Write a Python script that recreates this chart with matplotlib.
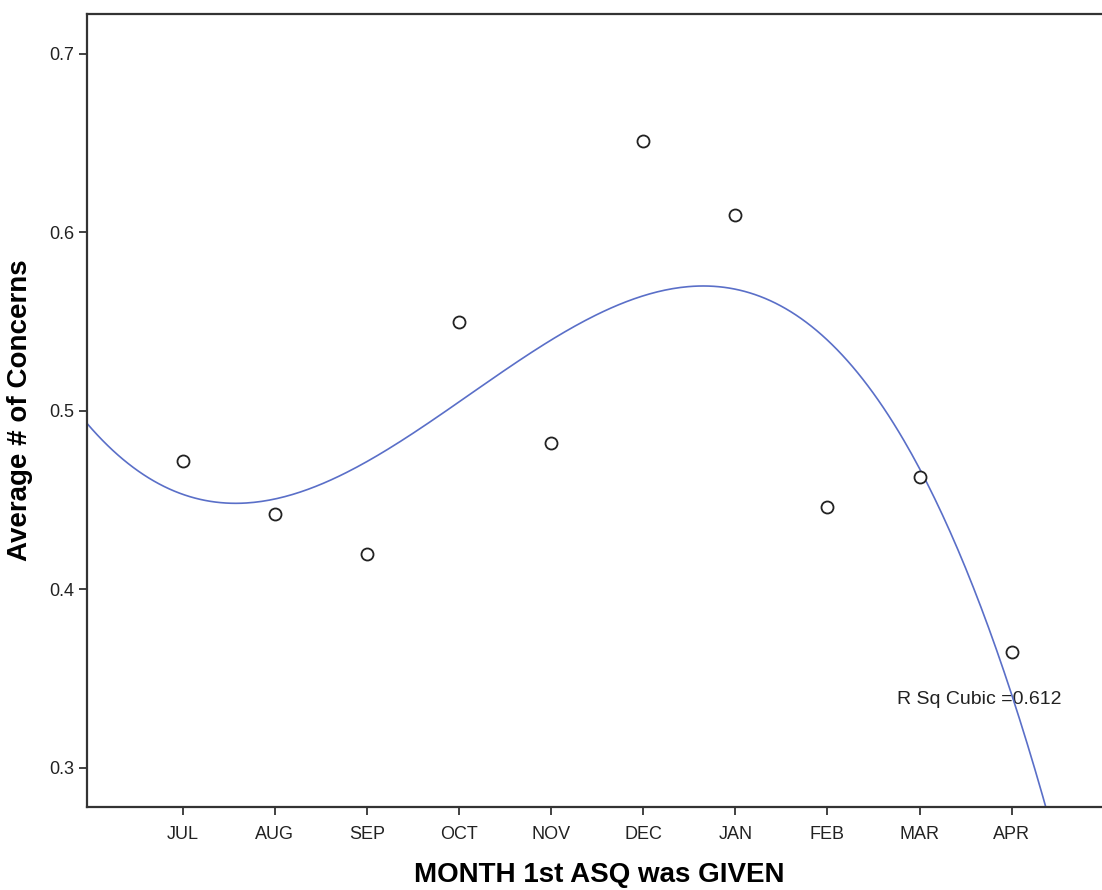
import numpy as np
import matplotlib.pyplot as plt

plt.rcParams['font.family'] = ['Liberation Sans', 'DejaVu Sans']

months = ['JUL', 'AUG', 'SEP', 'OCT', 'NOV', 'DEC', 'JAN', 'FEB', 'MAR', 'APR']
month_pos = [1, 2, 3, 4, 5, 6, 7, 8, 9, 10]
avg_concerns = [0.472, 0.442, 0.420, 0.550, 0.482, 0.651, 0.610, 0.446, 0.463, 0.365]

x = np.array(month_pos, dtype=float)
y = np.array(avg_concerns)
coef = np.polyfit(x, y, 3)

W, H = 1102, 890
fig = plt.figure(figsize=(W / 100, H / 100), dpi=100)
ax = fig.add_axes([87 / W, 1 - 807 / H, (1112 - 87) / W, (807 - 14) / H])

xlo, xhi = -0.04, -0.04 + (1112 - 87) / 92.1
xs = np.linspace(xlo, xhi, 400)
ax.plot(xs, np.polyval(coef, xs), color='#5a6fc8', lw=1.2, zorder=2)
ax.scatter(x, y, s=75, facecolors='white', edgecolors='#222222', linewidths=1.3, zorder=3)

# R squared label, placed in figure pixels like the original
ax.text(897 / W, 1 - 699 / H, 'R Sq Cubic =0.612', transform=fig.transFigure,
        fontsize=14, va='center', ha='left', color='#222222', zorder=1)

ax.set_xlim(xlo, xhi)
ax.set_ylim(0.278, 0.7224)
ax.set_xticks(month_pos)
ax.set_xticklabels(months)
ax.set_yticks([0.3, 0.4, 0.5, 0.6, 0.7])
ax.set_yticklabels(['0.3', '0.4', '0.5', '0.6', '0.7'])
ax.tick_params(labelsize=13, length=6, width=1.3, color='#333333', labelcolor='#222222')
ax.tick_params(axis='y', pad=3)
ax.tick_params(axis='x', pad=8)
for s in ax.spines.values():
    s.set_linewidth(1.6)
    s.set_color('#333333')

ax.set_xlabel('MONTH 1st ASQ was GIVEN', fontsize=20, fontweight='bold', labelpad=13)
ax.set_ylabel('Average # of Concerns', fontsize=20, fontweight='bold', labelpad=12)

fig.savefig('out.png', dpi=100)
